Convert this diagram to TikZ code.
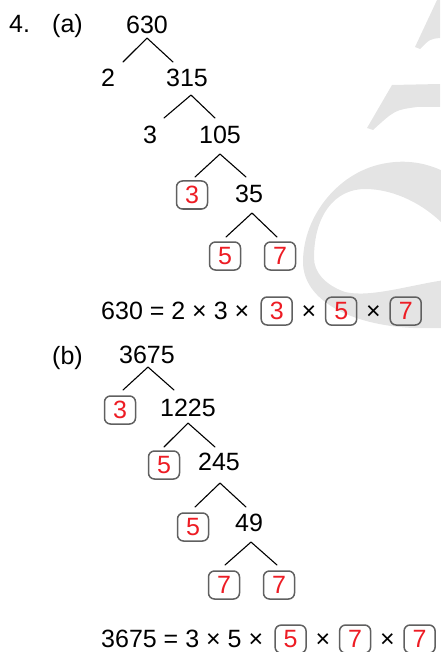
\documentclass[tikz,border=0pt]{standalone}
\usepackage{fontspec}
\setmainfont{Liberation Sans}
\usetikzlibrary{positioning}
\definecolor{factred}{RGB}{237,28,36}
\definecolor{boxgray}{RGB}{96,96,96}
\definecolor{markgray}{RGB}{228,228,228}

\begin{document}
\begin{tikzpicture}[x=1pt, y=-1pt, line cap=round, line join=round,
    num/.style={inner sep=0pt, font=\fontsize{25}{30}\selectfont},
    fac/.style={num, draw=boxgray, line width=1.5pt, rounded corners=6pt,
                text=factred, minimum width=31pt, minimum height=28pt},
    branch/.style={line width=1.1pt}]
    \useasboundingbox (0,0) rectangle (440,652);

    % faint watermark in the background
    \fill[markgray] (445,172) .. controls (425,162) and (405,160) .. (387,163)
        .. controls (340,170) and (303,215) .. (303,262)
        .. controls (303,300) and (350,325) .. (413,328) -- (445,328) -- (445,280)
        .. controls (410,285) and (370,298) .. (345,292)
        .. controls (325,285) and (314,272) .. (314,258)
        .. controls (314,215) and (335,189) .. (365,189)
        .. controls (395,189) and (425,205) .. (445,226) -- cycle;
    \fill[markgray] (367,128) -- (392,85) -- (440,84) -- (440,107) -- (417,107)
        .. controls (395,110) .. (373,130) -- cycle;
    \fill[markgray] (415,47) -- (437,0) -- (440,0) -- (440,38)
        .. controls (430,39) .. (420,49) -- cycle;

    % question labels
    \node[num, anchor=base west] (q4) at (9,33) {4.};
    \node[num, anchor=base west] (qa) at (52,33) {(a)};
    \node[num, anchor=base west] (qb) at (52,364) {(b)};

    % (a) factor tree of 630
    \node[num] (a630) at (147,25) {630};
    \node[num] (a2) at (108,78) {2};
    \node[num] (a315) at (187,78) {315};
    \node[num] (a3) at (150,135) {3};
    \node[num] (a105) at (220,135) {105};
    \node[fac] (af3) at (192,195) {3};
    \node[num] (a35) at (249,194) {35};
    \node[fac] (af5) at (225,256) {5};
    \node[fac] (af7) at (280,256) {7};

    \coordinate (ta2) at (123,62);
    \coordinate (ta315) at (173,62);
    \coordinate (ta3) at (164,118);
    \coordinate (ta105) at (215,118);
    \coordinate (taf3) at (195,177);
    \coordinate (ta35) at (246,177);
    \coordinate (taf5) at (226,237);
    \coordinate (taf7) at (277,237);

    \draw[branch] (ta2) -- ([yshift=-4pt]a630.south) -- (ta315);
    \draw[branch] (ta3) -- ([xshift=4pt,yshift=-8pt]a315.south) -- (ta105);
    \draw[branch] (taf3) -- ([yshift=-10pt]a105.south) -- (ta35);
    \draw[branch] (taf5) -- ([xshift=3pt,yshift=-10pt]a35.south) -- (taf7);

    % (a) result
    \node[num, anchor=west] (eqa) at (101,311) {630 = 2 × 3 ×};
    \node[fac, base right=11pt of eqa] (ea3) {3};
    \node[num, base right=8.5pt of ea3] (ex1) {×};
    \node[fac, base right=8.5pt of ex1] (ea5) {5};
    \node[num, base right=8.5pt of ea5] (ex2) {×};
    \node[fac, base right=8.5pt of ex2] (ea7) {7};

    % (b) factor tree of 3675
    \node[num] (b3675) at (147,355) {3675};
    \node[fac] (bf3) at (120,410) {3};
    \node[num] (b1225) at (188,408) {1225};
    \node[fac] (bf5a) at (164,465) {5};
    \node[num] (b245) at (219,462) {245};
    \node[fac] (bf5b) at (193,527) {5};
    \node[num] (b49) at (249,523) {49};
    \node[fac] (bf7a) at (224,585) {7};
    \node[fac] (bf7b) at (279,585) {7};

    \coordinate (tbf3) at (123,390);
    \coordinate (tb1225) at (174,390);
    \coordinate (tbf5a) at (164,447);
    \coordinate (tb245) at (215,447);
    \coordinate (tbf5b) at (195,507);
    \coordinate (tb49) at (246,507);
    \coordinate (tbf7a) at (225,565);
    \coordinate (tbf7b) at (277,565);

    \draw[branch] (tbf3) -- ([xshift=1pt,yshift=-3pt]b3675.south) -- (tb1225);
    \draw[branch] (tbf5a) -- ([yshift=-6pt]b1225.south) -- (tb245);
    \draw[branch] (tbf5b) -- ([xshift=1pt,yshift=-12pt]b245.south) -- (tb49);
    \draw[branch] (tbf7a) -- ([xshift=2pt,yshift=-10pt]b49.south) -- (tbf7b);

    % (b) result
    \node[num, anchor=west] (eqb) at (101,639) {3675 = 3 × 5 ×};
    \node[fac, base right=11pt of eqb] (eb5) {5};
    \node[num, base right=8.5pt of eb5] (ey1) {×};
    \node[fac, base right=8.5pt of ey1] (eb7a) {7};
    \node[num, base right=8.5pt of eb7a] (ey2) {×};
    \node[fac, base right=8.5pt of ey2] (eb7b) {7};
\end{tikzpicture}
\end{document}
